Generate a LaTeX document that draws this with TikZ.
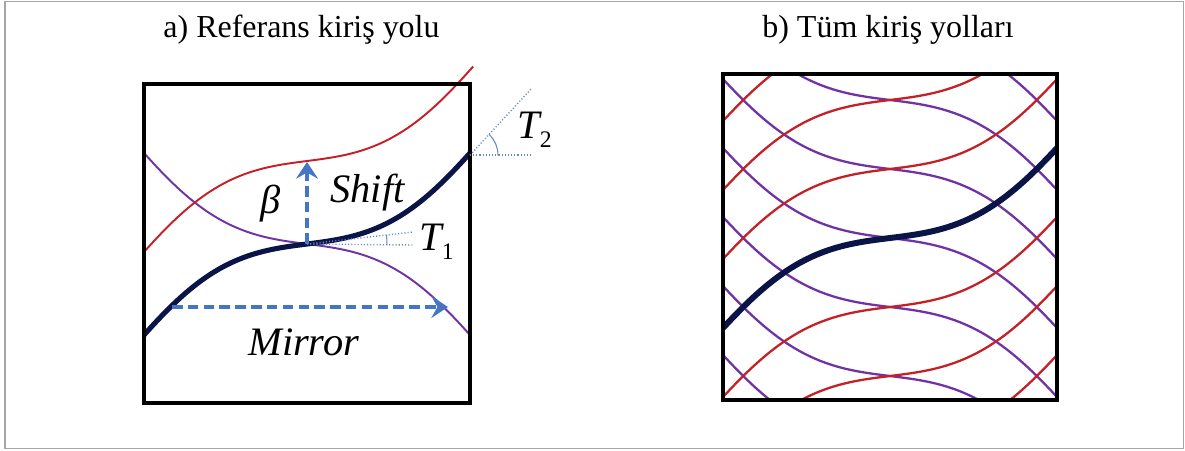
\documentclass[tikz,border=0pt]{standalone}
\usepackage{fontspec}
\setmainfont{Liberation Serif}
\newfontfamily\lblfont{LiberationSerif-Italic.ttf}
\usetikzlibrary{arrows.meta, angles}
\definecolor{beamRed}{RGB}{196, 32, 38}
\definecolor{beamPurple}{RGB}{112, 50, 165}
\definecolor{beamNavy}{RGB}{10, 20, 70}
\definecolor{guideBlue}{RGB}{70, 118, 195}
\definecolor{dotBlue}{RGB}{105, 135, 195}
\newcommand{\sbs}[1]{\raisebox{-5.5pt}{\fontsize{13.5}{14}\selectfont\rmfamily #1}}

\begin{document}
\begin{tikzpicture}[x=0.02cm, y=-0.02cm, >=Stealth,
  declare function={fs(\u)=0.23*(\u)+1.04*(\u)*(\u)*(\u)-0.27*(\u)*(\u)*(\u)*(\u)*(\u);},
  frame/.style={draw=black, line width=1.8pt},
  ttl/.style={font=\fontsize{18.2}{20}\selectfont, inner sep=0pt, anchor=base},
  lbl/.style={font=\lblfont\fontsize{23}{25}\selectfont, inner sep=0pt, anchor=base west},
  redpath/.style={draw=beamRed, line width=1.1pt},
  purplepath/.style={draw=beamPurple, line width=1.1pt},
  navypath/.style={draw=beamNavy, line width=2.9pt},
  guide/.style={draw=guideBlue, line width=2pt, dash pattern=on 6pt off 3pt,
                -{Stealth[length=9.5pt, width=12.5pt, inset=3.5pt]}},
  dotline/.style={draw=dotBlue, line width=0.8pt, dash pattern=on 0.6pt off 1.2pt},
  tick/.style={draw=dotBlue, line width=0.6pt}]

  \useasboundingbox (0,0) rectangle (1185,450);
  \draw[gray!70, line width=1.1pt] (5,1.5) rectangle (1183.5,448.5);

  % a) reference path
  \node[ttl] (ttla) at (301.5,37) {a) Referans kiriş yolu};
  \draw[purplepath] plot[domain=-1:1, samples=80, variable=\t] ({307+163*\t},{244+91*fs(\t)});
  \draw[redpath] plot[domain=-1:1.02, samples=80, variable=\t] ({307+163*\t},{161-91*fs(\t)});
  \draw[navypath] plot[domain=-1:1, samples=80, variable=\t] ({307+163*\t},{244-91*fs(\t)});
  \draw[frame] (144,84) rectangle (470,403);

  \coordinate (ctr) at (307,244);
  \coordinate (shtop) at (307,162);
  \coordinate (mirL) at (172,307);
  \coordinate (mirR) at (448,307);
  \coordinate (t1h) at (413,245);
  \coordinate (t1t) at (413,232);
  \coordinate (endR) at (470,155);
  \coordinate (t2h) at (532,155);
  \coordinate (t2t) at (532,88);

  \draw[guide] (ctr) -- (shtop);
  \draw[guide] (mirL) -- (mirR);
  \draw[dotline] (ctr) -- (t1h);
  \draw[dotline] (ctr) -- (t1t);
  \pic[tick, angle radius=1.6cm] {angle=t1h--ctr--t1t};
  \draw[dotline] (endR) -- (t2h);
  \draw[dotline] (endR) -- (t2t);
  \pic[tick, angle radius=0.56cm] {angle=t2h--endR--t2t};

  \node[lbl] (beta) at (260,213) {β};
  \node[lbl] (shift) at (330,202) {Shift};
  \node[lbl] (tone) at (419,250) {T\sbs{1}};
  \node[lbl] (ttwo) at (517,138) {T\sbs{2}};
  \node[lbl] (mirror) at (248,355) {Mirror};

  % b) all paths
  \node[ttl] (ttlb) at (888,37) {b) Tüm kiriş yolları};
  \begin{scope}
    \clip (723,74) rectangle (1057,400);
    \foreach \k in {-4,...,4}
      \draw[purplepath, line width=1.3pt] plot[domain=-1:1, samples=80, variable=\t]
        ({890+167*\t},{238+69*\k+90*fs(\t)});
    \foreach \k in {-4,-3,-2,-1,1,2,3,4}
      \draw[redpath, line width=1.3pt] plot[domain=-1:1, samples=80, variable=\t]
        ({890+167*\t},{238+69*\k-90*fs(\t)});
    \draw[navypath, line width=3.4pt] plot[domain=-1:1, samples=80, variable=\t]
      ({890+167*\t},{238-90*fs(\t)});
  \end{scope}
  \draw[frame] (723,74) rectangle (1057,400);

\end{tikzpicture}
\end{document}
